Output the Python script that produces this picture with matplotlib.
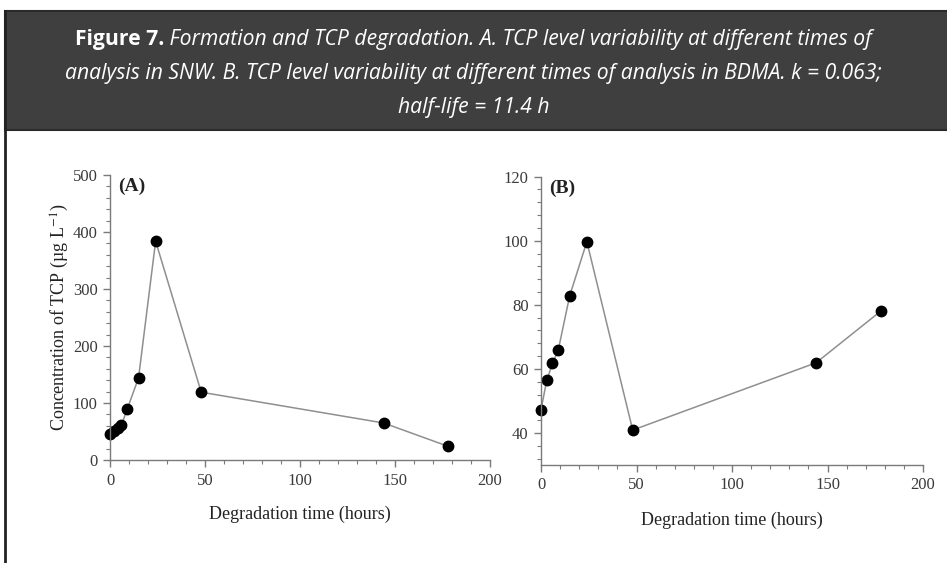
import matplotlib.pyplot as plt
from matplotlib.ticker import MultipleLocator
from matplotlib.patches import Rectangle
from matplotlib.lines import Line2D

plt.rcParams["mathtext.fontset"] = "stix"

# data
time_a = [0, 2, 4, 6, 9, 15, 24, 48, 144, 178]
conc_a = [45, 51, 57, 61, 89, 144, 384, 119, 65, 24]

time_b = [0, 3, 6, 9, 15, 24, 48, 144, 178]
conc_b = [47.3, 56.4, 61.7, 65.8, 82.8, 99.7, 40.9, 61.9, 78.1]

caption_1 = "Formation and TCP degradation. A. TCP level variability at different times of"
caption_2 = "analysis in SNW. B. TCP level variability at different times of analysis in BDMA. k = 0.063;"
caption_3 = "half-life = 11.4 h"

serif = ["Liberation Serif", "DejaVu Serif"]
head_font = ["Open Sans", "DejaVu Sans"]
head_size = 15.2

fig = plt.figure(figsize=(9.47, 5.63), dpi=100)

# dark caption box and left rule
fig.patches.append(Rectangle((5 / 947, 1 - 130 / 563), 1.0, 119 / 563, transform=fig.transFigure,
                             facecolor="#3f3f3f", edgecolor="#2a2a2a", linewidth=1.5))
fig.lines.append(Line2D([5 / 947, 5 / 947], [0, 1 - 11 / 563], transform=fig.transFigure,
                        color="#222222", linewidth=2))

t1 = fig.text(0.0, 1 - 40 / 563, "Figure 7.", color="white", fontsize=head_size, fontweight="bold",
              family=head_font, va="center")
t2 = fig.text(0.0, 1 - 40 / 563, " " + caption_1, color="white", fontsize=head_size, style="italic",
              family=head_font, va="center")
fig.text(0.5, 1 - 74 / 563, caption_2, color="white", fontsize=head_size, style="italic",
         family=head_font, ha="center", va="center")
fig.text(0.5, 1 - 107 / 563, caption_3, color="white", fontsize=head_size, style="italic",
         family=head_font, ha="center", va="center")

# center the mixed bold/italic first line
renderer = fig.canvas.get_renderer()
w1 = t1.get_window_extent(renderer).width / fig.bbox.width
w2 = t2.get_window_extent(renderer).width / fig.bbox.width
start = 0.5 - (w1 + w2) / 2
t1.set_x(start)
t2.set_x(start + w1)


def style_axes(ax, xlabelpad):
    for side in ["top", "right"]:
        ax.spines[side].set_visible(False)
    for side in ["left", "bottom"]:
        ax.spines[side].set_color("#7a7a7a")
        ax.spines[side].set_linewidth(1.0)
    ax.tick_params(which="major", direction="out", length=5, width=1, color="#7a7a7a",
                   labelsize=12, labelcolor="#3a3a3a", pad=4)
    ax.tick_params(which="minor", direction="out", length=3, width=0.8, color="#7a7a7a")
    for lab in ax.get_xticklabels() + ax.get_yticklabels():
        lab.set_family(serif)
    ax.set_xlim(0, 200)
    ax.xaxis.set_major_locator(MultipleLocator(50))
    ax.xaxis.set_minor_locator(MultipleLocator(10))
    ax.set_xlabel("Degradation time (hours)", family=serif, fontsize=13, color="#222222",
                  labelpad=xlabelpad)


ax_a = fig.add_axes([0.1162, 0.1829, 0.4012, 0.5062])
ax_a.plot(time_a, conc_a, color="#8f8f8f", linewidth=1.1, marker="o", markersize=7.5,
          markerfacecolor="black", markeredgecolor="black", clip_on=False)
ax_a.set_ylim(0, 500)
ax_a.yaxis.set_major_locator(MultipleLocator(100))
ax_a.yaxis.set_minor_locator(MultipleLocator(20))
style_axes(ax_a, 12)
ax_a.set_ylabel("Concentration of TCP (\u00b5g L$^{-1}$)", family=serif, fontsize=13,
                color="#222222", labelpad=1)
ax_a.text(0.02, 0.96, "(A)", transform=ax_a.transAxes, family=serif, fontsize=14,
          fontweight="bold", color="#222222", va="center")

ax_b = fig.add_axes([0.5713, 0.1741, 0.4034, 0.5121])
ax_b.plot(time_b, conc_b, color="#8f8f8f", linewidth=1.1, marker="o", markersize=7.5,
          markerfacecolor="black", markeredgecolor="black", clip_on=False)
ax_b.set_ylim(30, 120)
ax_b.yaxis.set_major_locator(MultipleLocator(20))
ax_b.yaxis.set_minor_locator(MultipleLocator(4))
style_axes(ax_b, 13)
ax_b.text(0.02, 0.96, "(B)", transform=ax_b.transAxes, family=serif, fontsize=14,
          fontweight="bold", color="#222222", va="center")

fig.savefig("out.png", dpi=100)
